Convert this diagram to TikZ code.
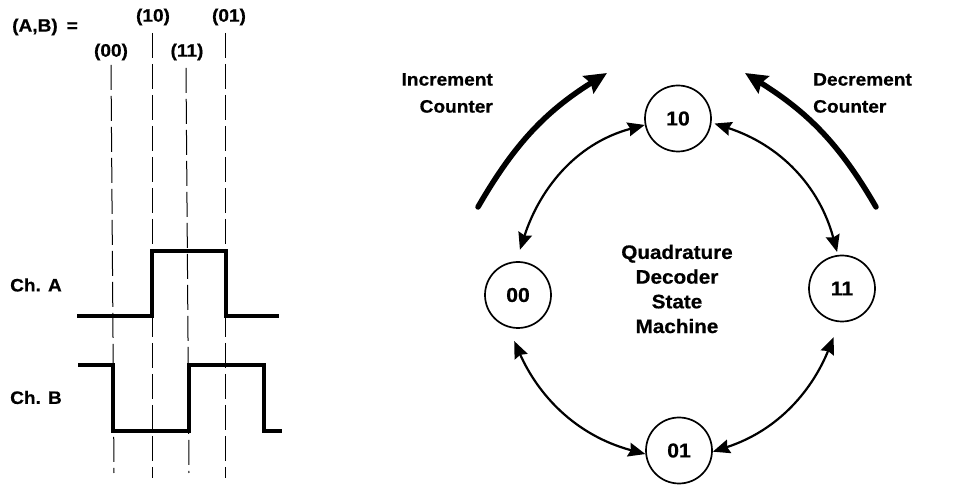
\documentclass[tikz,border=0pt]{standalone}
\usepackage{fontspec}
\setmainfont{Liberation Sans}[FakeStretch=1.06, BoldFeatures={FakeBold=0.6}]
\usetikzlibrary{arrows.meta}
\begin{document}
\begin{tikzpicture}[x=1pt,y=1pt,
  lbl/.style={font=\fontsize{18}{20}\selectfont\bfseries, inner sep=0pt},
  cnt/.style={font=\fontsize{18}{27}\selectfont\bfseries, inner sep=0pt},
  ctr/.style={font=\fontsize{19.5}{24.7}\selectfont\bfseries, inner sep=0pt, align=center},
  state/.style={circle, draw, line width=1.7pt, minimum size=66pt, inner sep=0pt, font=\fontsize{20}{22}\selectfont\bfseries},
  trans/.style={line width=2.2pt, {Stealth[length=17pt,width=14pt,inset=2pt]}-{Stealth[length=17pt,width=14pt,inset=2pt]}},
  countarrow/.style={line width=5.5pt, line cap=round, -{Stealth[length=22pt,width=20pt,inset=3pt]}},
  wave/.style={line width=3.2pt},
  guide/.style={line width=1pt, dash pattern=on 25pt off 6pt}]
\useasboundingbox (0,0) rectangle (954,485);

% ---- timing diagram labels
\node[lbl, anchor=west] (ab) at (12,458) {(A,B)\hspace{0.5em}=};
\node[lbl] (l10) at (153,468) {(10)};
\node[lbl] (l01) at (229,468) {(01)};
\node[lbl] (l00) at (111,433) {(00)};
\node[lbl] (l11) at (187,433) {(11)};
\node[lbl, anchor=west] (cha) at (10,200) {Ch. A};
\node[lbl, anchor=west] (chb) at (10,87.5) {Ch. B};

% ---- guide lines
\draw[guide] (111,420) -- (114,12);
\draw[guide] (152,452) -- (152,7);
\draw[guide] (186,417) -- (189,12);
\draw[guide] (225,452) -- (225,7);

% ---- waveforms
\draw[wave] (77,169) -- (152,169) -- (152,234) -- (226,234) -- (226,169) -- (279,169);
\draw[wave] (78,120) -- (113,120) -- (113,54) -- (189,54) -- (189,120) -- (264,120) -- (264,54) -- (282,54);

% ---- state machine
\node[state] (n10) at (678,366.5) {10};
\node[state] (n00) at (518,190) {00};
\node[state] (n11) at (842,196.5) {11};
\node[state] (n01) at (679,34.5) {01};

\node[ctr] (title) at (677,196) {Quadrature\\Decoder\\State\\Machine};

\draw[trans, shorten <=12pt] (n00.93) to[out=72,in=195] (n10.191);
\draw[trans, shorten <=3pt, shorten >=3pt] (n10.-7) to[out=-18,in=105] (n11.97);
\draw[trans, shorten <=16pt] (n11.266) to[out=248,in=18] (n01.-2);
\draw[trans, shorten <=15pt] (n00.253) to[out=-66,in=165] (n01.186);

% ---- counter arrows
\coordinate (ic0) at (478,278);
\coordinate (ic1) at (607,412);
\coordinate (dc0) at (876,278);
\coordinate (dc1) at (745,412);
\draw[countarrow] (ic0) to[out=60,in=212] (ic1);
\draw[countarrow] (dc0) to[out=120,in=-32] (dc1);

\node[cnt, align=right, anchor=east] (inc) at (493,392) {Increment\\Counter};
\node[cnt, align=left, anchor=west] (dec) at (813,392) {Decrement\\Counter};
\end{tikzpicture}
\end{document}
